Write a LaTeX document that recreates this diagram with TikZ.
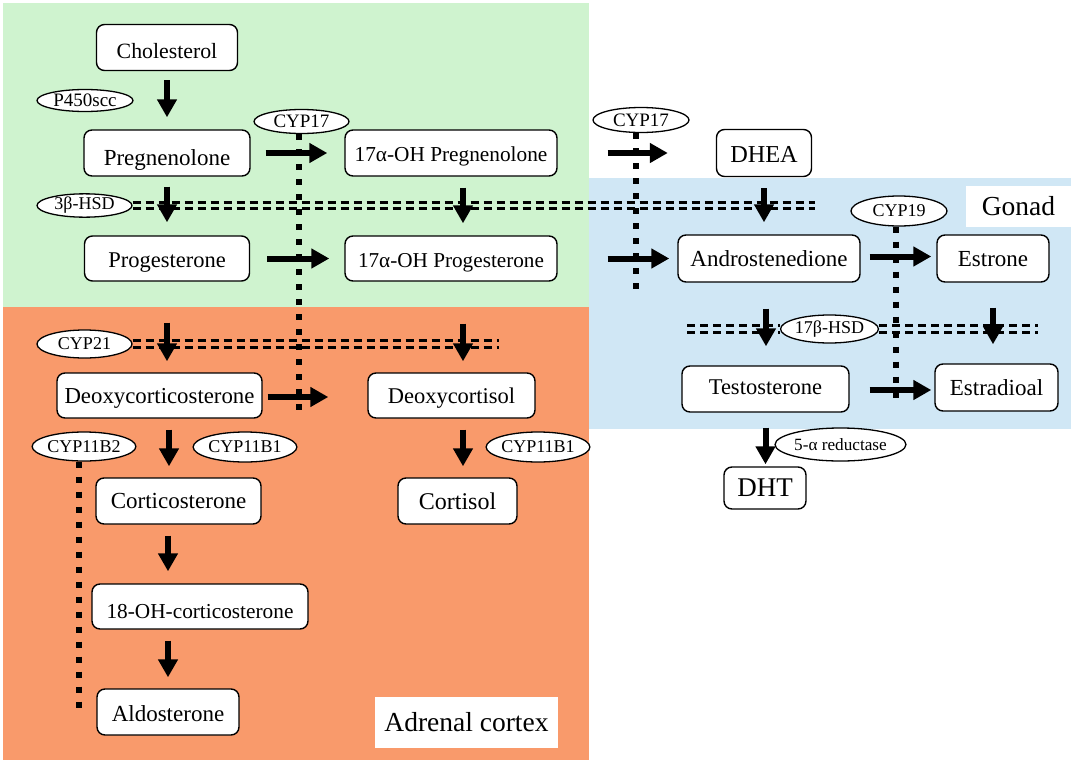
\documentclass[tikz,border=0pt]{standalone}
\usepackage{fontspec}
\setmainfont{Liberation Serif}
\usetikzlibrary{arrows.meta,shapes.geometric}
\definecolor{bggreen}{RGB}{207,243,207}
\definecolor{bgorange}{RGB}{249,154,107}
\definecolor{bgblue}{RGB}{208,231,245}
\tikzset{
  box/.style={draw=black, line width=1.4pt, rounded corners=8pt, fill=white, inner sep=0pt, align=center, text height=16pt, text depth=0pt, font=\fontsize{22.5}{27}\selectfont},
  enz/.style={draw=black, line width=1.3pt, ellipse, fill=white, inner sep=0pt, font=\fontsize{18}{20}\selectfont},
  arr/.style={line width=6pt, -{Triangle[length=18pt,width=19pt]}},
  ddash/.style={line width=3pt, dash pattern=on 8pt off 5pt},
  dots/.style={line width=6pt, dash pattern=on 6pt off 9pt},
  tag/.style={fill=white, inner sep=0pt, font=\fontsize{27.5}{32}\selectfont}
}
\begin{document}
\begin{tikzpicture}[x=1pt,y=-1pt]
\useasboundingbox (0,0) rectangle (1071,763);
% backgrounds
\fill[bggreen] (3,3) rectangle (589,307);
\fill[bgorange] (3,307) rectangle (589,760);
\fill[bgblue] (589,178) rectangle (1071,429);
\node[tag, minimum width=105pt, minimum height=41pt] (gonad) at (1018.5,206.5) {Gonad};
\node[tag, minimum width=183pt, minimum height=51pt] (adrenal) at (466.5,722.5) {Adrenal cortex};

% enzymes
\node[enz, minimum width=96pt, minimum height=22pt, font=\fontsize{19}{21}\selectfont] (p450) at (85,100.5) {P450scc};
\node[enz, minimum width=95pt, minimum height=24pt, font=\fontsize{19}{21}\selectfont] (cyp17a) at (301.5,121.5) {CYP17};
\node[enz, minimum width=95pt, minimum height=22pt] (hsd3) at (84.5,205.5) {3β-HSD};
\node[enz, minimum width=96pt, minimum height=25pt, font=\fontsize{19}{21}\selectfont] (cyp17b) at (641,120) {CYP17};
\node[enz, minimum width=96pt, minimum height=30pt] (cyp19) at (899,211) {CYP19};
\node[enz, minimum width=95pt, minimum height=28pt] (hsd17) at (829.5,329) {17β-HSD};
\node[enz, minimum width=115pt, minimum height=33pt, font=\fontsize{17.2}{20}\selectfont] (red5) at (840.5,444.5) {5-α reductase};
\node[enz, minimum width=95pt, minimum height=28pt] (cyp21) at (84.5,344) {CYP21};
\node[enz, minimum width=94pt, minimum height=29pt] (cyp11b2) at (84,446.5) {CYP11B2};
\node[enz, minimum width=94pt, minimum height=30pt] (cyp11b1a) at (245,447) {CYP11B1};
\node[enz, minimum width=96pt, minimum height=30pt] (cyp11b1b) at (538,447) {CYP11B1};

% line end points
\coordinate (e3b) at (815,205.5);
\coordinate (e21) at (499,344);
\coordinate (e17l) at (687,329);
\coordinate (e17r) at (1038,329);
\coordinate (d17a) at (299,413);
\coordinate (d17b) at (636,289);
\coordinate (d19) at (896,402);
\coordinate (d11) at (79,715);

% double dashed lines
\foreach \s in {3.2pt,-3.2pt}{
  \draw[ddash] ([yshift=\s]hsd3.east) -- ([yshift=\s]e3b);
  \draw[ddash] ([yshift=\s]cyp21.east) -- ([yshift=\s]e21);
  \draw[ddash] ([yshift=\s]e17l) -- ([yshift=\s]hsd17.west);
  \draw[ddash] ([yshift=\s]hsd17.east) -- ([yshift=\s]e17r);
}
% dotted lines
\draw[dots] ([xshift=-2.5pt]cyp17a.south) -- (d17a);
\draw[dots] ([xshift=-5pt]cyp17b.south) -- (d17b);
\draw[dots] ([xshift=-3pt]cyp19.south) -- (d19);
\draw[dots] ([xshift=-5pt]cyp11b2.south) -- (d11);

% boxes
\node[box, minimum width=141pt, minimum height=46pt, text height=21.4pt, font=\fontsize{21.8}{26}\selectfont] (chol) at (167,47.5) {Cholesterol};
\node[box, minimum width=166pt, minimum height=46pt, text height=24pt, font=\fontsize{23}{27}\selectfont] (preg) at (167,153) {Pregnenolone};
\node[box, minimum width=212pt, minimum height=46pt, text height=16pt, font=\fontsize{21.3}{26}\selectfont] (ohpreg) at (451,153) {17α-OH Pregnenolone};
\node[box, minimum width=165pt, minimum height=45pt, text height=18pt] (prog) at (167,258.5) {Progesterone};
\node[box, minimum width=212pt, minimum height=45pt, text height=17pt, font=\fontsize{21.2}{26}\selectfont] (ohprog) at (451,258.5) {17α-OH Progesterone};
\node[box, minimum width=95pt, minimum height=47pt, text height=19pt, font=\fontsize{24.3}{28}\selectfont] (dhea) at (764,153) {DHEA};
\node[box, minimum width=182pt, minimum height=47pt, text height=15pt, font=\fontsize{23}{27}\selectfont] (andro) at (769,258.5) {Androstenedione};
\node[box, minimum width=112pt, minimum height=47pt, text height=15pt, font=\fontsize{23}{27}\selectfont] (estrone) at (993,258.5) {Estrone};
\node[box, minimum width=167pt, minimum height=46pt, text height=10pt] (testo) at (765.5,389) {Testosterone};
\node[box, minimum width=123pt, minimum height=47pt, text height=15pt, font=\fontsize{23}{27}\selectfont] (estradiol) at (996.5,387.5) {Estradioal};
\node[box, minimum width=82pt, minimum height=42pt, text height=16pt, font=\fontsize{27}{31}\selectfont] (dht) at (765,488) {DHT};
\node[box, minimum width=205pt, minimum height=45pt, text height=15pt, font=\fontsize{22.8}{27}\selectfont] (doc) at (159.5,395.5) {Deoxycorticosterone};
\node[box, minimum width=167pt, minimum height=45pt, text height=16pt] (dcortisol) at (451.5,395.5) {Deoxycortisol};
\node[box, minimum width=165pt, minimum height=46pt, text height=14pt, font=\fontsize{23}{27}\selectfont] (cortico) at (178.5,501) {Corticosterone};
\node[box, minimum width=119pt, minimum height=46pt, text height=16pt, font=\fontsize{24}{28}\selectfont] (cortisol) at (457.5,501) {Cortisol};
\node[box, minimum width=216pt, minimum height=45pt, text height=23pt, font=\fontsize{21.3}{26}\selectfont] (oh18) at (200,606.5) {18-OH-corticosterone};
\node[box, minimum width=142pt, minimum height=46pt, text height=18pt, font=\fontsize{23}{27}\selectfont] (aldo) at (168,712) {Aldosterone};

% arrows
\draw[arr, shorten <=9pt, shorten >=12pt] (chol.south) -- (chol.south |- preg.north);
\draw[arr, shorten <=15pt, shorten >=17pt] (preg.east) -- (preg.east -| ohpreg.west);
\draw[arr, shorten <=10pt, shorten >=13pt] (preg.south) -- (preg.south |- prog.north);
\draw[arr, shorten <=11pt, shorten >=12pt] ([xshift=12pt]ohpreg.south) -- ([xshift=12pt]ohpreg.south |- ohprog.north);
\draw[arr, shorten <=17pt, shorten >=15pt] (prog.east) -- (prog.east -| ohprog.west);
\draw[arr, shorten <=50pt, shorten >=48pt] (ohpreg.east) -- (ohpreg.east -| dhea.west);
\draw[arr, shorten <=11pt, shorten >=12pt] (dhea.south) -- (dhea.south |- andro.north);
\draw[arr, shorten <=50pt, shorten >=8pt] (ohprog.east) -- (ohprog.east -| andro.west);
\draw[arr, shorten <=9pt, shorten >=5pt] ([yshift=2pt]andro.east) -- ([yshift=2pt]andro.east -| estrone.west);
\draw[arr, shorten <=26pt, shorten >=19pt] ([xshift=-3pt]andro.south) -- ([xshift=-3pt]andro.south |- testo.north);
\draw[arr, shorten <=25pt, shorten >=19pt] (estrone.south) -- (estrone.south |- estradiol.north);
\draw[arr, shorten <=20pt, shorten >=3pt] ([yshift=-1pt]testo.east) -- ([yshift=-1pt]testo.east -| estradiol.west);
\draw[arr, shorten <=15pt, shorten >=2pt] (testo.south) -- (testo.south |- dht.north);
\draw[arr, shorten <=41pt, shorten >=11pt] (prog.south) -- (prog.south |- doc.north);
\draw[arr, shorten <=42pt, shorten >=11pt] ([xshift=12pt]ohprog.south) -- ([xshift=12pt]ohprog.south |- dcortisol.north);
\draw[arr, shorten <=5pt, shorten >=39pt] ([yshift=-1.5pt]doc.east) -- ([yshift=-1.5pt]doc.east -| dcortisol.west);
\draw[arr, shorten <=11pt, shorten >=11pt] ([xshift=9.5pt]doc.south) -- ([xshift=9.5pt]doc.south |- cortico.north);
\draw[arr, shorten <=11pt, shorten >=11pt] ([xshift=11.5pt]dcortisol.south) -- ([xshift=11.5pt]dcortisol.south |- cortisol.north);
\draw[arr, shorten <=11pt, shorten >=12pt] ([xshift=-10.5pt]cortico.south) -- ([xshift=-10.5pt]cortico.south |- oh18.north);
\draw[arr, shorten <=11pt, shorten >=11pt] (aldo.north |- oh18.south) -- (aldo.north);
\end{tikzpicture}
\end{document}
